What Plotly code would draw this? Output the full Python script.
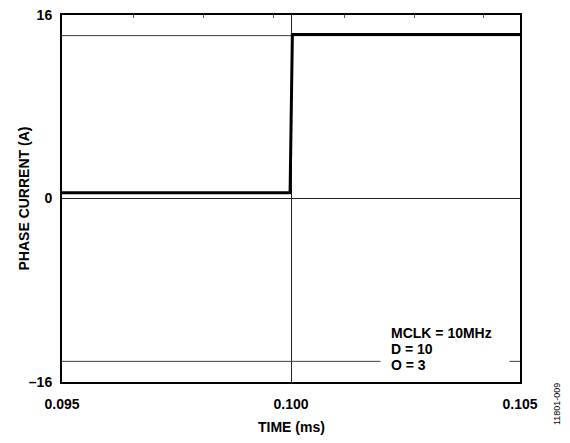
import plotly.graph_objects as go

# step response of the phase current
time_ms = [0.095, 0.09998, 0.10003, 0.105]
current_a = [0.5, 0.5, 14.3, 14.3]

# horizontal reference levels
ref_levels = [14.2, -14.2]

x_ticks = [0.095, 0.100, 0.105]
x_ticklabels = ["0.095", "0.100", "0.105"]
y_ticks = [-16, 0, 16]
y_ticklabels = ["–16", "0", "16"]

# small tick marks on the top edge
top_ticks = [0.09657, 0.09808, 0.09962, 0.10116, 0.10269, 0.10421]

note_lines = ["MCLK = 10MHz", "D = 10", "O = 3"]
note_y = [-11.72, -13.12, -14.52]

FONT = "Liberation Sans, Arial"

fig = go.Figure()

for lvl in ref_levels:
    fig.add_trace(go.Scatter(
        x=[x_ticks[0], x_ticks[-1]], y=[lvl, lvl],
        mode="lines", line=dict(color="#3a3a3a", width=1),
        hoverinfo="skip", showlegend=False,
    ))

fig.add_trace(go.Scatter(
    x=time_ms, y=current_a,
    mode="lines", line=dict(color="black", width=3),
    showlegend=False,
))

# empty trace so the top axis is drawn
fig.add_trace(go.Scatter(x=[None], y=[None], xaxis="x2", showlegend=False))

# white patch behind the note, interrupting the lower reference line
fig.add_annotation(
    x=0.10194, y=ref_levels[1], xref="x", yref="y",
    text=" ", width=128, height=14, showarrow=False,
    xanchor="left", yanchor="middle", bgcolor="white", borderpad=0,
)
for line, yv in zip(note_lines, note_y):
    fig.add_annotation(
        x=0.10216, y=yv, xref="x", yref="y",
        text="<b>" + line + "</b>", showarrow=False,
        xanchor="left", yanchor="middle", borderpad=0,
        font=dict(family=FONT, size=14, color="black"),
    )

# axis titles
fig.add_annotation(
    x=0.5, y=-0.1226, xref="paper", yref="paper",
    text="<b>TIME (ms)</b>", showarrow=False,
    xanchor="center", yanchor="middle",
    font=dict(family=FONT, size=14, color="black"),
)
fig.add_annotation(
    x=-0.083, y=0.5, xref="paper", yref="paper",
    text="<b>PHASE CURRENT (A)</b>", textangle=-90, showarrow=False,
    xanchor="center", yanchor="middle",
    font=dict(family=FONT, size=14, color="black"),
)

fig.add_annotation(
    x=1.081, y=-0.06, xref="paper", yref="paper",
    text="11801-009", textangle=-90, showarrow=False,
    xanchor="center", yanchor="middle",
    font=dict(family=FONT, size=9, color="black"),
)

fig.update_layout(
    width=570, height=443,
    margin=dict(l=62, r=50, t=15, b=61),
    plot_bgcolor="white", paper_bgcolor="white",
    font=dict(family=FONT, size=14, color="black"),
    xaxis=dict(
        range=[x_ticks[0], x_ticks[-1]], automargin=False,
        tickvals=x_ticks, ticktext=["<b>" + t + "</b>" for t in x_ticklabels],
        showgrid=True, gridcolor="#222222", gridwidth=1,
        zeroline=False, showline=True, linecolor="black", linewidth=2,
        mirror=True, ticks="", ticklen=0, ticklabelstandoff=8,
    ),
    xaxis2=dict(
        range=[x_ticks[0], x_ticks[-1]], overlaying="x", side="top",
        automargin=False,
        tickvals=top_ticks, ticks="inside", ticklen=3, tickwidth=1,
        tickcolor="#555555",
        showticklabels=False, showgrid=False, zeroline=False,
    ),
    yaxis=dict(
        range=[y_ticks[0], y_ticks[-1]], automargin=False,
        tickvals=y_ticks, ticktext=["<b>" + t + "</b>" for t in y_ticklabels],
        showgrid=True, gridcolor="#222222", gridwidth=1,
        zeroline=False, showline=True, linecolor="black", linewidth=2,
        mirror=True, ticks="", ticklen=0, ticklabelstandoff=5,
    ),
)

# drop the page's default body margin so the figure sits at the top-left corner
fig.write_html(
    "out.html",
    config={"displayModeBar": False},
    post_script="document.body.style.margin = '0';",
)
